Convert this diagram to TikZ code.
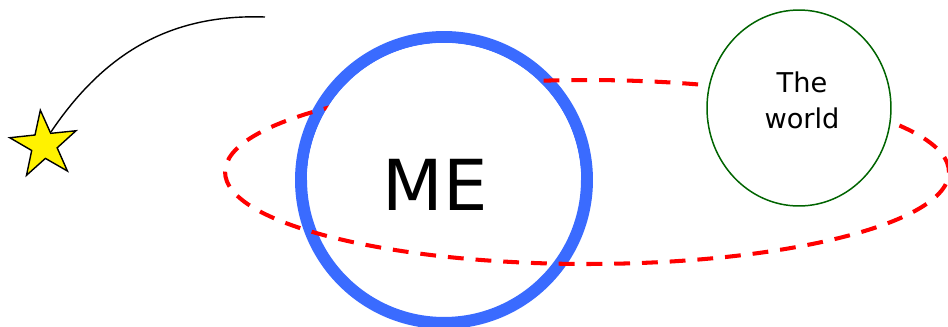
\documentclass[tikz,border=0pt]{standalone}
\usepackage{fontspec}
\setmainfont{DejaVu Sans}
\usetikzlibrary{shapes.geometric}
\definecolor{meblue}{RGB}{58,107,255}
\definecolor{worldgreen}{RGB}{0,100,0}
\tikzset{
  orbit/.style={ellipse, draw=red, line width=2.3pt, dash pattern=on 9pt off 6.8pt, minimum width=14.48cm, minimum height=3.68cm, inner sep=0pt},
  mering/.style={circle, draw=meblue, fill=white, line width=0.24cm, minimum size=5.72cm, inner sep=0pt},
  worldball/.style={ellipse, draw=worldgreen, fill=white, line width=0.03cm, minimum width=3.68cm, minimum height=3.92cm},
  worldtext/.style={align=center, font=\fontsize{15.5}{20.5}\selectfont},
  starball/.style={star, star points=5, star point ratio=2.6, minimum size=1.4cm, inner sep=0pt, draw, fill=yellow, line width=0.8pt, shape border rotate=6}
}
\begin{document}
\begin{tikzpicture}[x=0.02cm,y=0.02cm]
        \useasboundingbox (0,0) rectangle (948,326);
        % me, its orbit, the world
        \node[mering] (me) at (444,146) {};
        \node[orbit] (orbit) at (587,154) {};
        \fill [white] (me.center) ++(-137,0) arc[start angle=180,end angle=0,radius=137] -- cycle;
        \node[font=\fontsize{40}{48}\selectfont] (metext) at (435,141) {ME};
        \node[worldball] (world) at (799,218) {};
        \node[worldtext] (worldlabel) at (802,226) {The\\world};
        % falling star
        \node[starball] (star) at (44,181) {};
        \coordinate (sky) at (265,309);
        \draw[line width=0.8pt] (star.62) to[out=56,in=178] (sky);
\end{tikzpicture}
\end{document}
